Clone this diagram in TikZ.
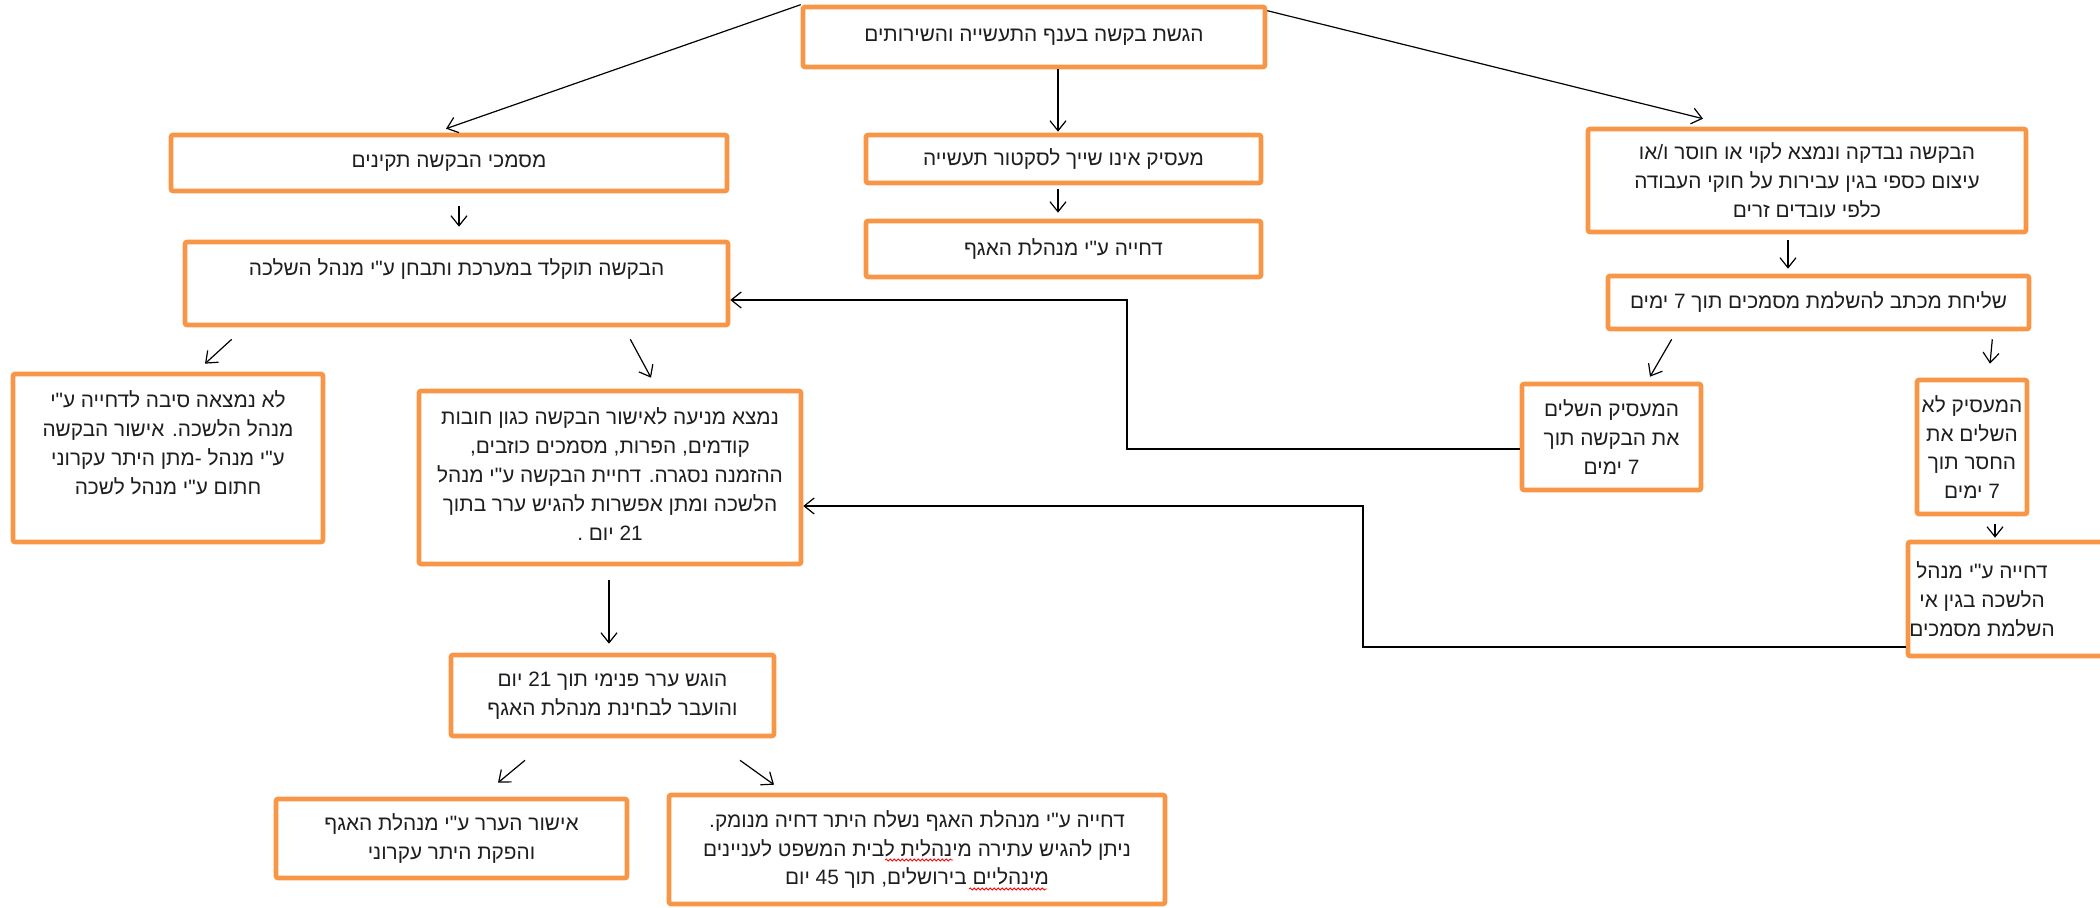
\documentclass[tikz,border=0pt]{standalone}
\usepackage{fontspec}
\newfontfamily\hebfont[Script=Hebrew]{Liberation Sans}
\TeXXeTstate=1
\usetikzlibrary{arrows.meta,decorations.pathmorphing,calc}
\definecolor{boxorange}{HTML}{F79646}
\definecolor{txt}{HTML}{1E1E1E}
\newcommand\hl[1]{\beginR #1\endR}
\newcommand\topbox[4]{\parbox[c][#2][t]{#1}{\centering\vspace*{#3}#4}}
\tikzset{
  box/.style={draw=boxorange, line width=2.3pt, rounded corners=1pt, fill=white, text=txt,
    inner sep=0pt, align=center, font=\hebfont\fontsize{10.4}{14.4}\selectfont},
  arr/.style={draw=black, line width=0.6pt, -{Straight Barb[length=5pt,width=8pt,line width=0.6pt]}},
  squig/.style={draw=red, line width=0.4pt, decorate, decoration={snake, amplitude=0.5pt, segment length=2pt}}
}
\begin{document}
\begin{tikzpicture}[x=0.5pt,y=-0.5pt]
\useasboundingbox (0,0) rectangle (2100,908);
% boxes
\node[box, minimum width=231pt, minimum height=30pt] (submit) at (1034,37) {\hl{הגשת בקשה בענף התעשייה והשירותים}};
\node[box, minimum width=278pt, minimum height=28pt] (docsok) at (449,163) {\hl{מסמכי הבקשה תקינים}};
\node[box, minimum width=197.5pt, minimum height=24pt] (notind) at (1063.5,159) {\hl{מעסיק אינו שייך לסקטור תעשייה}};
\node[box, minimum width=197.5pt, minimum height=28pt] (rejind) at (1063.5,249) {\hl{דחייה ע"י מנהלת האגף}};
\node[box, minimum width=219pt, minimum height=51.5pt] (found) at (1807,180.5) {\hl{הבקשה נבדקה ונמצא לקוי או חוסר ו/או}\\\hl{עיצום כספי בגין עבירות על חוקי העבודה}\\\hl{כלפי עובדים זרים}};
\node[box, minimum width=210.5pt, minimum height=26.5pt] (letter) at (1818.5,302.5) {\hl{שליחת מכתב להשלמת מסמכים תוך 7 ימים}};
\node[box, minimum width=271.5pt, minimum height=41.5pt] (typed) at (456.5,283.5) {\topbox{271.5pt}{41.5pt}{8.5pt}{\hl{הבקשה תוקלד במערכת ותבחן ע"י מנהל השלכה}}};
\node[box, minimum width=155pt, minimum height=84pt] (noreason) at (168,458) {\topbox{155pt}{84pt}{8.5pt}{\hl{לא נמצאה סיבה לדחייה ע"י}\\\hl{מנהל הלשכה. אישור הבקשה}\\\hl{ע"י מנהל  -מתן היתר עקרוני}\\\hl{חתום ע"י מנהל לשכה}}};
\node[box, minimum width=191pt, minimum height=86.5pt] (obstacle) at (610,477.5) {\topbox{191pt}{86.5pt}{8.5pt}{\hl{נמצא מניעה לאישור הבקשה כגון חובות}\\\hl{קודמים, הפרות, מסמכים כוזבים,}\\\hl{ההזמנה נסגרה. דחיית הבקשה ע"י מנהל}\\\hl{הלשכה ומתן אפשרות להגיש ערר בתוך}\\\hl{21 יום .}}};
\node[box, minimum width=89.5pt, minimum height=53pt] (done) at (1611.5,437) {\hl{המעסיק השלים}\\\hl{את הבקשה תוך}\\\hl{7 ימים}};
\node[box, minimum width=55pt, minimum height=67pt] (notdone) at (1972,447) {\hl{המעסיק לא}\\\hl{השלים את}\\\hl{החסר תוך}\\\hl{7 ימים}};
\node[box, minimum width=150pt, minimum height=57pt] (rejdocs) at (2058,599) {\parbox{74pt}{\centering\hl{דחייה ע"י מנהל}\\\hl{הלשכה בגין אי}\\\hl{השלמת מסמכים}}\hspace{76pt}};
\node[box, minimum width=161.5pt, minimum height=40.5pt] (appeal) at (612.5,695.5) {\hl{הוגש ערר פנימי תוך 21  יום}\\\hl{והועבר לבחינת מנהלת האגף}};
\node[box, minimum width=175.5pt, minimum height=39.5pt] (approve) at (451.5,838.5) {\hl{אישור הערר ע"י מנהלת האגף}\\\hl{והפקת היתר עקרוני}};
\node[box, minimum width=248pt, minimum height=54.5pt] (reject) at (917,849.5) {\hl{דחייה ע"י מנהלת האגף נשלח היתר דחיה מנומק.}\\\hl{ניתן להגיש עתירה מינהלית לבית המשפט לעניינים}\\\hl{מינהליים בירושלים, תוך  45 יום}};
% spell-check underlines
\draw[squig] ([xshift=-16pt,yshift=-5.25pt]reject.center) -- ([xshift=18pt,yshift=-5.25pt]reject.center);
\draw[squig] ([xshift=26pt,yshift=-19.75pt]reject.center) -- ([xshift=65pt,yshift=-19.75pt]reject.center);
% connectors
\draw[arr] (submit.north west) -- ([xshift=-1.5pt,yshift=2pt]docsok.north);
\draw[arr] ([xshift=12pt]submit.south) -- ([xshift=-2.75pt,yshift=0.5pt]notind.north);
\draw[arr] ([yshift=-3pt]submit.north east) -- ([xshift=-52pt,yshift=4pt]found.north);
\draw[arr] ([xshift=5pt,yshift=-6.5pt]docsok.south) -- ([xshift=1.25pt,yshift=6.5pt]typed.north);
\draw[arr] ([xshift=-2.75pt,yshift=-2pt]notind.south) -- ([xshift=-2.75pt,yshift=3pt]rejind.north);
\draw[arr] ([xshift=-9.5pt,yshift=-3pt]found.south) -- ([xshift=-15.25pt,yshift=2.5pt]letter.north);
\draw[arr] ([xshift=24.5pt,yshift=-6pt]typed.south west) -- ([xshift=18.5pt,yshift=4pt]noreason.north);
\draw[arr] ([xshift=-50pt,yshift=-6pt]typed.south east) -- ([xshift=20.5pt,yshift=5.5pt]obstacle.north);
\draw[arr] ([xshift=33pt,yshift=-4pt]letter.south west) -- ([xshift=19.25pt,yshift=2.5pt]done.north);
\draw[arr] ([xshift=-19.5pt,yshift=-4pt]letter.south east) -- ([xshift=9pt,yshift=7pt]notdone.north);
\coordinate (c1) at (1127,300);
\draw[arr] ([yshift=-6pt]done.west) -| (c1) -- (c1 -| typed.east);
\coordinate (c2) at (1363,506);
\draw[arr] ([yshift=-24pt]rejdocs.west) -| (c2) -- (c2 -| obstacle.east);
\draw[arr] ([xshift=11.5pt,yshift=-4pt]notdone.south) -- ([xshift=-31.5pt,yshift=1pt]rejdocs.north);
\draw[arr] ([xshift=-0.5pt,yshift=-7pt]obstacle.south) -- ([xshift=-1.75pt,yshift=4.5pt]appeal.north);
\draw[arr] ([xshift=-43.75pt,yshift=-11pt]appeal.south) -- ([xshift=23.25pt,yshift=7pt]approve.north);
\draw[arr] ([xshift=63.75pt,yshift=-11pt]appeal.south) -- ([xshift=-71.5pt,yshift=4pt]reject.north);
\end{tikzpicture}
\end{document}
